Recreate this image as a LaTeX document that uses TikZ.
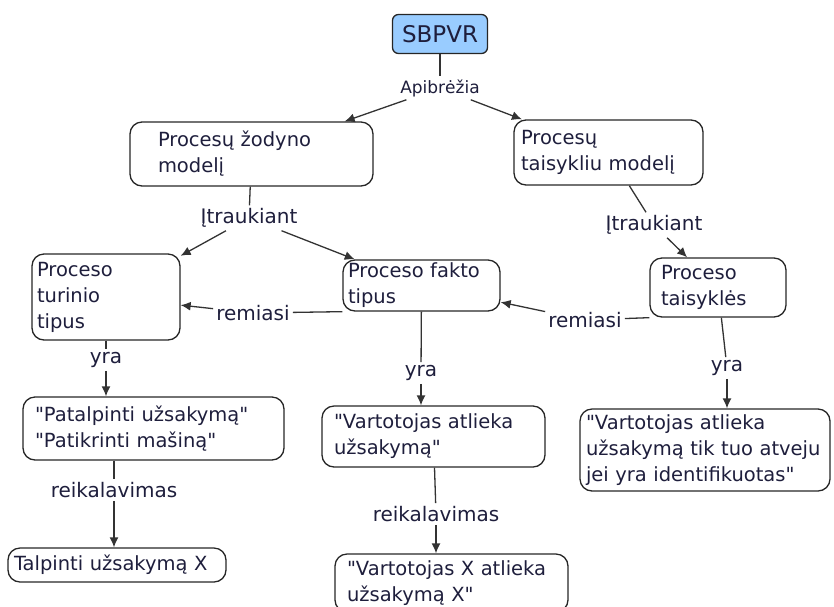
\documentclass[tikz,border=0pt]{standalone}
\usepackage{fontspec}
\setmainfont{DejaVu Sans}[Ligatures=TeXOff]
\usepackage{xcolor}
\usepackage{tikz}
\usetikzlibrary{positioning,arrows.meta}

\definecolor{boxblue}{HTML}{99CCFF}
\definecolor{inkcol}{HTML}{1E1E3C}

\tikzset{
	conceptbox/.style={draw=black!85, line width=1.3pt, rounded corners=12pt, align=left, text=inkcol, font=\fontsize{19.5}{26}\selectfont, inner ysep=2pt},
	linkword/.style={text=inkcol, font=\fontsize{20}{24}\selectfont, inner sep=3pt},
	linkline/.style={draw=black!80, line width=1.3pt},
	linkarrow/.style={linkline, -{Latex[length=10pt,width=9pt]}}
}

\begin{document}
\begin{tikzpicture}[x=1pt,y=-1pt]
					\useasboundingbox (0,0) rectangle (834,606);
					\clip (0,0) rectangle (834,606);
					% concepts
					\node[conceptbox, fill=boxblue, rounded corners=6pt, minimum width=95pt, minimum height=39pt, align=center, font=\fontsize{23}{26}\selectfont] (sbpvr) at (440,34) {SBPVR};
					\node[conceptbox, text width=187pt, inner xsep=28pt, minimum height=64pt] (zod) at (251.5,154) {Procesų žodyno\\modelį};
					\node[conceptbox, text width=175pt, inner xsep=7pt, minimum height=65pt] (tais) at (608.5,152.5) {Procesų\\taisykliu modelį};
					\node[conceptbox, text width=138pt, inner xsep=5pt, minimum height=86pt] (turinio) at (106,297) {Proceso\\turinio\\tipus};
					\node[conceptbox, text width=147pt, inner xsep=5pt, minimum height=51pt] (fakto) at (421.5,285.5) {Proceso fakto\\tipus};
					\node[conceptbox, text width=114pt, inner xsep=11pt, minimum height=59pt] (taisykles) at (718,287.5) {Proceso\\taisyklės};
					\node[conceptbox, text width=237pt, inner xsep=12pt, minimum height=63pt] (patal) at (153.5,428.5) {"Patalpinti užsakymą"\\"Patikrinti mašiną"};
					\node[conceptbox, text width=199pt, inner xsep=12pt, minimum height=61pt] (vart) at (433.5,436.5) {"Vartotojas atlieka\\užsakymą"};
					\node[conceptbox, text width=238pt, inner xsep=6pt, minimum height=82pt] (ident) at (705,450) {"Vartotojas atlieka\\užsakymą tik tuo atveju\\jei yra identifikuotas"};
					\node[conceptbox, text width=206pt, inner xsep=6pt, minimum height=34pt] (talp) at (117,565) {Talpinti užsakymą X};
					\node[conceptbox, text width=209pt, inner xsep=12pt, minimum height=58pt] (vartx) at (451.5,583) {"Vartotojas X atlieka\\užsakymą X"};
					% linking words
					\node[linkword, font=\fontsize{17}{20}\selectfont] (apib) at (440,88) {Apibrėžia};
					\node[linkword] (itrA) at (249,218) {Įtraukiant};
					\node[linkword] (itrB) at (654,225) {Įtraukiant};
					\node[linkword] (remA) at (253,313) {remiasi};
					\node[linkword] (remB) at (585,320) {remiasi};
					\node[linkword] (yraA) at (106,360) {yra};
					\node[linkword] (yraB) at (421,373) {yra};
					\node[linkword] (yraC) at (727,368) {yra};
					\node[linkword] (reikA) at (114,490) {reikalavimas};
					\node[linkword] (reikB) at (436,514) {reikalavimas};
					% connectors
					\draw[linkline] (sbpvr) -- (apib);
					\draw[linkarrow] (apib) -- (zod);
					\draw[linkarrow] (apib) -- (tais);
					\draw[linkline] (zod) -- (itrA);
					\draw[linkarrow] (itrA) -- (turinio);
					\draw[linkarrow] (itrA) -- (fakto);
					\draw[linkline] (tais) -- (itrB);
					\draw[linkarrow] (itrB) -- (taisykles);
					\draw[linkline] (fakto.south west) -- (remA);
					\draw[linkarrow] (remA) -- (turinio);
					\draw[linkline] (taisykles.south west) -- (remB);
					\draw[linkarrow] (remB) -- (fakto);
					\draw[linkline] (turinio) -- (yraA);
					\draw[linkarrow] (yraA) -- (yraA |- patal.north);
					\draw[linkline] (fakto) -- (yraB);
					\draw[linkarrow] (yraB) -- (yraB |- vart.north);
					\draw[linkline] (taisykles) -- (yraC);
					\draw[linkarrow] (yraC) -- (yraC |- ident.north);
					\draw[linkline] (reikA |- patal.south) -- (reikA);
					\draw[linkarrow] (reikA) -- (reikA |- talp.north);
					\draw[linkline] (vart) -- (reikB);
					\draw[linkarrow] (reikB) -- (reikB |- vartx.north);
				\end{tikzpicture}
\end{document}
